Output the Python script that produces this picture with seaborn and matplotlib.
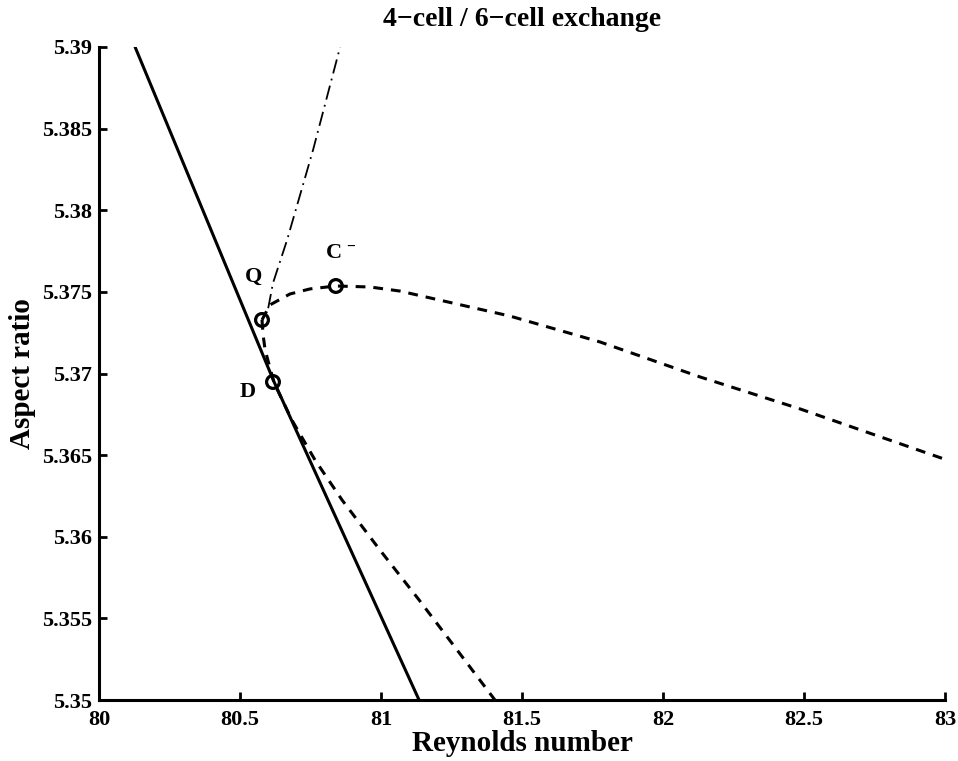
import matplotlib
matplotlib.use("Agg")
import matplotlib.pyplot as plt
import seaborn as sns

# Data
solid_re = [80.128, 80.621, 81.135]
solid_ar = [5.39, 5.36948, 5.35]

dashdot_re = [80.600, 80.617, 80.667, 80.759, 80.855]
dashdot_ar = [5.37400, 5.37554, 5.37818, 5.38369, 5.39]

lower_re = [80.578, 80.582, 80.589, 80.621, 80.684, 80.766, 80.862, 80.996, 81.135, 81.270, 81.404]
lower_ar = [5.37328, 5.37236, 5.37144, 5.36942, 5.36715, 5.36470, 5.36225, 5.35919, 5.35613, 5.35306, 5.35000]

upper_re = [80.578, 80.606, 80.677, 80.748, 80.840, 80.961, 81.067, 81.457, 81.777, 82.131, 82.486, 83.007]
upper_ar = [5.37328, 5.37420, 5.37487, 5.37518, 5.37536, 5.37530, 5.37505, 5.37352, 5.37193, 5.36979, 5.36783, 5.36470]

point_re = [80.578, 80.617, 80.840]
point_ar = [5.37328, 5.36948, 5.37536]

label_texts = ["Q", "D", "C $^{-}$"]
label_re = [80.518, 80.498, 80.800]
label_ar = [5.37591, 5.36887, 5.37738]

xticks = [80, 80.5, 81, 81.5, 82, 82.5, 83]
xticklabels = ["80", "80.5", "81", "81.5", "82", "82.5", "83"]
yticks = [5.35, 5.355, 5.36, 5.365, 5.37, 5.375, 5.38, 5.385, 5.39]
yticklabels = ["5.35", "5.355", "5.36", "5.365", "5.37", "5.375", "5.38", "5.385", "5.39"]

sns.set_style("ticks")
plt.rcParams["font.family"] = ["Liberation Serif", "DejaVu Serif"]
plt.rcParams["font.weight"] = "bold"
plt.rcParams["mathtext.fontset"] = "custom"
plt.rcParams["mathtext.rm"] = "Liberation Serif:bold"
plt.rcParams["mathtext.it"] = "Liberation Serif:bold"
plt.rcParams["mathtext.bf"] = "Liberation Serif:bold"
for k in ["text.color", "axes.labelcolor", "xtick.color", "ytick.color", "axes.edgecolor"]:
    plt.rcParams[k] = "black"

fig = plt.figure(figsize=(9.58, 7.61), dpi=100)
ax = fig.add_axes([99 / 958, 61 / 761, (945 - 99) / 958, (700 - 47) / 761])

lw = 2.2
sns.lineplot(x=solid_re, y=solid_ar, ax=ax, sort=False, color="black", linewidth=lw, estimator=None)
sns.lineplot(x=dashdot_re, y=dashdot_ar, ax=ax, sort=False, color="black", linewidth=1.3, estimator=None)
ax.lines[-1].set_dashes([8, 3, 1, 3])
sns.lineplot(x=lower_re, y=lower_ar, ax=ax, sort=False, color="black", linewidth=lw, estimator=None)
ax.lines[-1].set_dashes([3.2, 2.6])
sns.lineplot(x=upper_re, y=upper_ar, ax=ax, sort=False, color="black", linewidth=lw, estimator=None)
ax.lines[-1].set_dashes([3.2, 2.6])

sns.scatterplot(x=point_re, y=point_ar, ax=ax, s=85, marker="o", facecolors="none",
                edgecolors="black", linewidths=2.3, zorder=5)

for name, xr, yr in zip(label_texts, label_re, label_ar):
    ax.text(xr, yr, name, fontsize=16, fontweight="bold", ha="left", va="center")

ax.set_xlim(80, 83)
ax.set_ylim(5.35, 5.39)
ax.set_xticks(xticks)
ax.set_xticklabels(xticklabels)
ax.set_yticks(yticks)
ax.set_yticklabels(yticklabels)
ax.tick_params(direction="in", length=6, width=2, labelsize=16)
ax.tick_params(axis="x", pad=7)
ax.tick_params(axis="y", pad=5)
for s in ["top", "right"]:
    ax.spines[s].set_visible(False)
for s in ["left", "bottom"]:
    ax.spines[s].set_linewidth(2.2)

ax.set_xlabel("Reynolds number", fontsize=21, fontweight="bold", labelpad=0)
ax.set_ylabel("Aspect ratio", fontsize=21, fontweight="bold", labelpad=4)
ax.set_title("4\u2212cell / 6\u2212cell exchange", fontsize=20, fontweight="bold", pad=15)

fig.savefig("out.png", dpi=100)
